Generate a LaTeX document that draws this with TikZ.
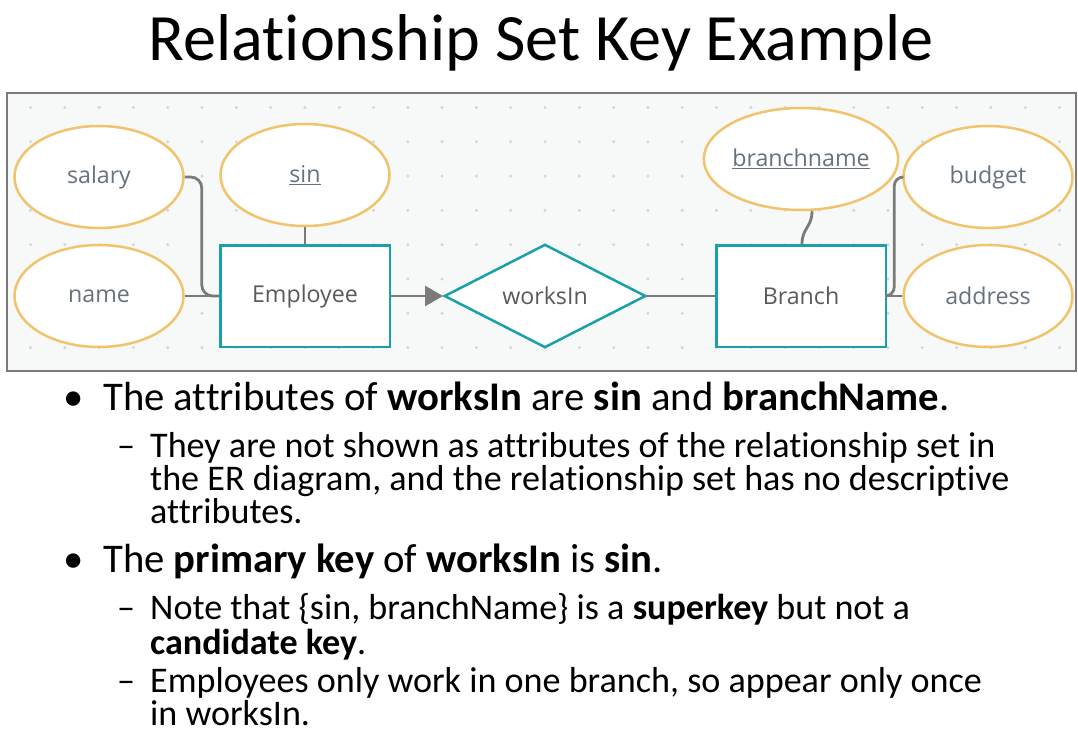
\documentclass[tikz,border=0pt]{standalone}
\usepackage{fontspec}
\setmainfont[Ligatures={TeX,NoCommon}]{Carlito}
\newfontfamily\erfont{Open Sans}
\usetikzlibrary{shapes.geometric,arrows.meta,calc}

\definecolor{attrline}{HTML}{F0C46C}
\definecolor{erteal}{HTML}{1AA0A8}
\definecolor{linkgray}{HTML}{7A7A7A}
\definecolor{attrtext}{HTML}{66727E}
\definecolor{enttext}{HTML}{5A5A5A}
\definecolor{panelbg}{HTML}{F7F8F8}
\definecolor{griddot}{HTML}{D3D7DA}
\definecolor{panelframe}{HTML}{7A7A7A}

\tikzset{
  attr/.style={ellipse, draw=attrline, line width=2.5pt, fill=white,
    minimum width=169pt, minimum height=102pt, inner sep=0pt,
    font=\erfont\fontsize{23.2}{26}\selectfont, text=attrtext},
  entity/.style={rectangle, draw=erteal, line width=2.5pt, fill=white,
    minimum width=169.5pt, minimum height=101.5pt, inner sep=0pt,
    font=\erfont\fontsize{23.2}{26}\selectfont, text=enttext},
  rel/.style={diamond, draw=erteal, line width=2.5pt, fill=white,
    minimum width=201.5pt, minimum height=101.5pt, inner sep=0pt,
    font=\erfont\fontsize{23.2}{26}\selectfont, text=enttext},
  link/.style={draw=linkgray, line width=2.8pt},
  bodytext/.style={anchor=base west, inner sep=0pt, text=black, align=left},
  lvlone/.style={bodytext, font=\fontsize{40.7}{44}\selectfont},
  lvltwo/.style={bodytext, font=\fontsize{36.1}{33}\selectfont},
}

\begin{document}
\begin{tikzpicture}[x=1pt, y=-1pt]
  \useasboundingbox[fill=white] (0,0) rectangle (1078,738);

  % title
  \node[anchor=base, inner sep=0pt, font=\fontsize{66.2}{76}\selectfont] (title) at (541,61)
    {Relationship Set Key Example};

  % diagram panel with dotted grid
  \draw[fill=panelbg, draw=panelframe, line width=1.2pt] (7,93) rectangle (1076,371);
  \foreach \i in {0,...,30}
    \foreach \j in {0,...,7}
      \fill[griddot] (30.5+34.3*\i, 107.5+34.3*\j) circle (1.7pt);

  % attributes
  \node[attr] (salary) at (99,177) {salary};
  \node[attr] (name) at (99,296) {name};
  \node[attr] (sin) at (305,175) {\underline{sin}};
  \node[attr] (bname) at (801,159) {\underline{branchname}};
  \node[attr] (budget) at (988,177) {budget};
  \node[attr] (address) at (988,296) {address};

  % entities and relationship
  \node[entity] (emp) at (305,296) {Employee};
  \node[rel] (works) at (545,296) {worksIn};
  \node[entity] (branch) at (801,296) {Branch};

  % connectors
  \draw[link, rounded corners=11pt] (salary.east) -- ++(17,0) |- (emp.west);
  \draw[link] (name.east) -- (emp.west);
  \draw[link] (sin.south) -- (emp.north);
  \draw[link, -{Triangle[length=18pt,width=20pt]}] (emp.east) -- (works.west);
  \draw[link] (works.east) -- (branch.west);
  \draw[link] ([xshift=11pt]bname.south) .. controls +(0,16) and +(0,-16) .. ([xshift=1pt]branch.north);
  \draw[link, rounded corners=9pt] (budget.west) -- ++(-8,0) |- (branch.east);
  \draw[link] (address.west) -- (branch.east);

  % bullet list (multi-line nodes are placed by the baseline of their last line)
  \node[lvlone] (b1) at (63,410) {\textbullet};
  \node[lvlone] (t1) at (103,410) {The attributes of \textbf{worksIn} are \textbf{sin} and \textbf{branchName}.};
  \node[lvltwo] (d1) at (117,457) {\textendash};
  \node[lvltwo] (t1a) at (150,523) {They are not shown as attributes of the relationship set in\\
    the ER diagram, and the relationship set has no descriptive\\
    attributes.};

  \node[lvlone] (b2) at (63,572) {\textbullet};
  \node[lvlone] (t2) at (103,572) {The \textbf{primary key} of \textbf{worksIn} is \textbf{sin}.};
  \node[lvltwo] (d2) at (117,619) {\textendash};
  \node[lvltwo, font=\fontsize{36.1}{35}\selectfont] (t2a) at (150,654)
    {Note that \{sin, branchName\} is a \textbf{superkey} but not a\\
    \textbf{candidate key}.};
  \node[lvltwo] (d3) at (117,692) {\textendash};
  \node[lvltwo] (t2c) at (150,725) {Employees only work in one branch, so appear only once\\
    in worksIn.};
\end{tikzpicture}
\end{document}
